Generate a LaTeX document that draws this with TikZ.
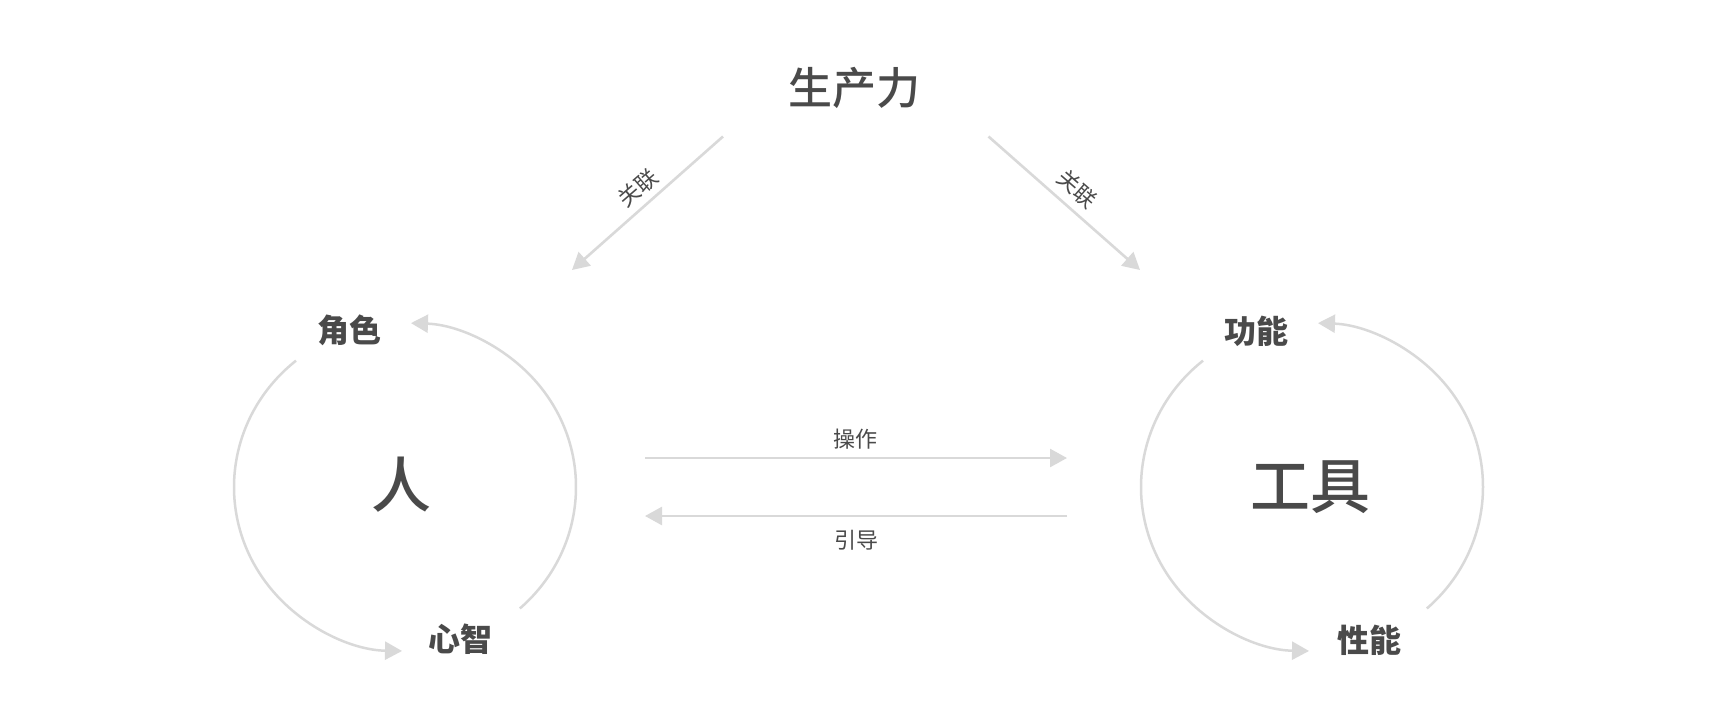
\documentclass[tikz,border=0pt]{standalone}
\usepackage{fontspec}
\newfontfamily\cjk{Noto Sans CJK SC}
\newfontfamily\cjkm{Noto Sans CJK SC}[UprightFont={* Medium}]
\usetikzlibrary{arrows.meta}
\definecolor{txt}{HTML}{4A4A4A}
\definecolor{ln}{HTML}{D9D9D9}
\begin{document}
\begin{tikzpicture}[x=1pt,y=-1pt,
  lbl/.style={text=txt, font=\cjk\bfseries\fontsize{32}{32}\selectfont, inner sep=0},
  big/.style={text=txt, font=\cjkm\fontsize{60}{60}\selectfont, inner sep=0},
  ttl/.style={text=txt, font=\cjkm\fontsize{44}{44}\selectfont, inner sep=0},
  small/.style={text=txt, font=\cjk\fontsize{22}{22}\selectfont, inner sep=0},
  tip/.style={-{Triangle[length=17pt,width=18pt]}},
  conn/.style={draw=ln, line width=2.6pt, tip},
  ring/.style={draw=ln, line width=2.5pt, tip}]
\fill[white] (0,0) rectangle (1726,724);
\useasboundingbox (0,0) rectangle (1726,724);
% text nodes
\node[ttl] (sc) at (854,88) {生产力};
\node[big] (ren) at (401,485) {人};
\node[big] (gj) at (1310,487) {工具};
\node[lbl] (js) at (349.5,330) {角色};
\node[lbl] (xz) at (460,639) {心智};
\node[lbl] (gn) at (1256,331) {功能};
\node[lbl] (xn) at (1369,640) {性能};
\node[small] (cz) at (855.5,439) {操作};
\node[small] (yd) at (856,540) {引导};
\node[small, rotate=41] (gl1) at (638,188) {关联};
\node[small, rotate=-41] (gl2) at (1077,189) {关联};
% straight connectors
\coordinate (a1s) at (723,136.5);
\coordinate (a1e) at (572,270);
\coordinate (a2s) at (988.5,136.5);
\coordinate (a2e) at (1140,270);
\coordinate (h1s) at (645,458);
\coordinate (h1e) at (1067,458);
\coordinate (h2s) at (1067,516);
\coordinate (h2e) at (645,516);
\draw[conn] (a1s) -- (a1e);
\draw[conn] (a2s) -- (a2e);
\draw[conn] (h1s) -- (h1e);
\draw[conn] (h2s) -- (h2e);
% rings
\coordinate (cL) at (405,487);
\coordinate (cR) at (1312,487);
\coordinate (L1) at ([shift={(-129.6:171 and 164)}]cL);
\coordinate (L2) at ([shift={(47.8:171 and 164)}]cL);
\coordinate (R1) at ([shift={(-129.6:171 and 164)}]cR);
\coordinate (R2) at ([shift={(47.8:171 and 164)}]cR);
\draw[ring] (L1) arc[start angle=-129.6, end angle=-269, x radius=171, y radius=164];
\draw[ring] (L2) arc[start angle=47.8, end angle=-88, x radius=171, y radius=164];
\draw[ring] (R1) arc[start angle=-129.6, end angle=-269, x radius=171, y radius=164];
\draw[ring] (R2) arc[start angle=47.8, end angle=-88, x radius=171, y radius=164];
\end{tikzpicture}
\end{document}
